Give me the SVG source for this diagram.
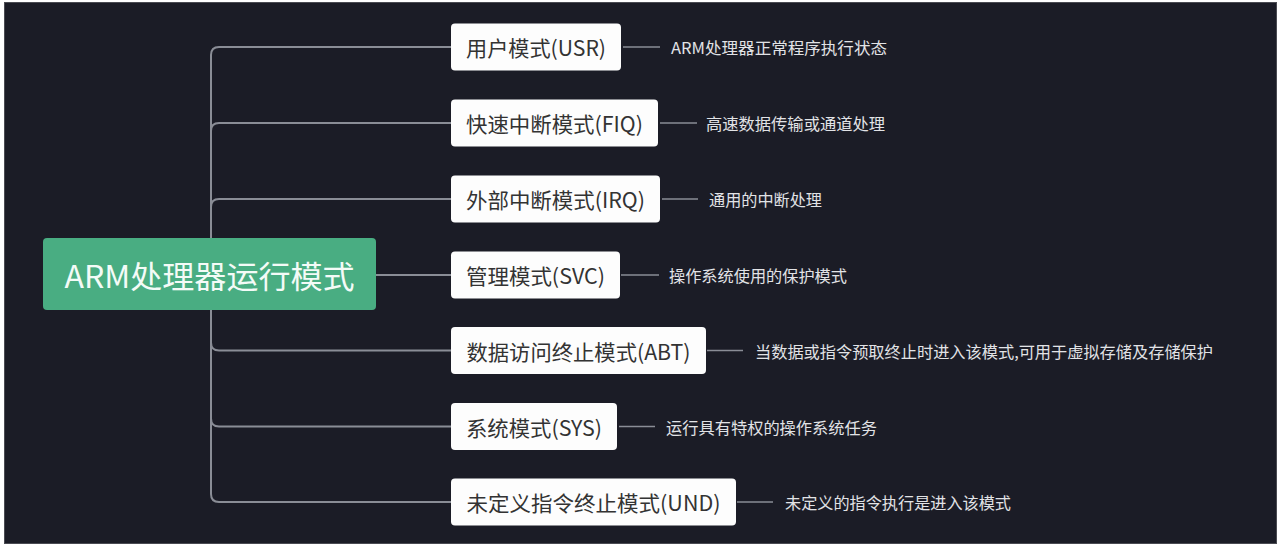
<svg xmlns="http://www.w3.org/2000/svg" width="1281" height="547" viewBox="0 0 1281 547">
<style>
.bg{fill:#1b1c26;stroke:#4a4b52;stroke-width:1}
.root{fill:#49ad82}
.rootT{fill:#f4fbf7;font-family:"Noto Sans CJK SC","Noto Sans",sans-serif;font-size:31px}
.box{fill:#fdfdfd}
.boxT{fill:#333333;font-family:"Noto Sans CJK SC","Noto Sans",sans-serif;font-size:21px}
.desc{fill:#e2e3e6;font-family:"Noto Sans CJK SC","Noto Sans",sans-serif;font-size:16px}
.br{fill:none;stroke:#8a8d96;stroke-width:2}
.dl{fill:none;stroke:#8a8d96;stroke-width:1.5}
</style>
<rect x="0" y="0" width="1281" height="547" fill="#ffffff"/>
<rect class="bg" x="4.5" y="2.5" width="1272" height="541"/>
<g id="connectors">
<path class="br" d="M211,275 V55 Q211,47 219,47 H451"/>
<path class="br" d="M211,275 V131 Q211,123 219,123 H451"/>
<path class="br" d="M211,275 V207 Q211,199 219,199 H451"/>
<path class="br" d="M376,275 H451"/>
<path class="br" d="M211,275 V342.5 Q211,350.5 219,350.5 H451"/>
<path class="br" d="M211,275 V418.5 Q211,426.5 219,426.5 H451"/>
<path class="br" d="M211,275 V494 Q211,502 219,502 H451"/>
<path class="dl" d="M623,47 H660"/>
<path class="dl" d="M660,123 H697"/>
<path class="dl" d="M662,199 H698"/>
<path class="dl" d="M621,275 H659"/>
<path class="dl" d="M707,350.5 H743"/>
<path class="dl" d="M619,426.5 H655"/>
<path class="dl" d="M737,502 H773"/>
</g>
<g id="root">
<rect class="root" x="43" y="238" width="333" height="72" rx="4"/>
<text class="rootT" x="209.5" y="274" text-anchor="middle" dominant-baseline="central" textLength="290" lengthAdjust="spacingAndGlyphs">ARM处理器运行模式</text>
</g>
<g id="usr">
<rect class="box" x="451" y="23.5" width="170" height="47" rx="4"/>
<text class="boxT" x="536" y="47" text-anchor="middle" dominant-baseline="central" textLength="140" lengthAdjust="spacingAndGlyphs">用户模式(USR)</text>
<text class="desc" x="671" y="47" dominant-baseline="central" textLength="216" lengthAdjust="spacingAndGlyphs">ARM处理器正常程序执行状态</text>
</g>
<g id="fiq">
<rect class="box" x="451" y="99.5" width="207" height="47" rx="4"/>
<text class="boxT" x="554.5" y="123" text-anchor="middle" dominant-baseline="central" textLength="177" lengthAdjust="spacingAndGlyphs">快速中断模式(FIQ)</text>
<text class="desc" x="706" y="123" dominant-baseline="central" textLength="179" lengthAdjust="spacingAndGlyphs">高速数据传输或通道处理</text>
</g>
<g id="irq">
<rect class="box" x="451" y="175.5" width="209" height="47" rx="4"/>
<text class="boxT" x="555.5" y="199" text-anchor="middle" dominant-baseline="central" textLength="179" lengthAdjust="spacingAndGlyphs">外部中断模式(IRQ)</text>
<text class="desc" x="709" y="199" dominant-baseline="central" textLength="113" lengthAdjust="spacingAndGlyphs">通用的中断处理</text>
</g>
<g id="svc">
<rect class="box" x="451" y="251.5" width="169" height="47" rx="4"/>
<text class="boxT" x="535.5" y="275" text-anchor="middle" dominant-baseline="central" textLength="139" lengthAdjust="spacingAndGlyphs">管理模式(SVC)</text>
<text class="desc" x="669" y="275" dominant-baseline="central" textLength="178" lengthAdjust="spacingAndGlyphs">操作系统使用的保护模式</text>
</g>
<g id="abt">
<rect class="box" x="451" y="327" width="255" height="47" rx="4"/>
<text class="boxT" x="578.5" y="350.5" text-anchor="middle" dominant-baseline="central" textLength="224" lengthAdjust="spacingAndGlyphs">数据访问终止模式(ABT)</text>
<text class="desc" x="755" y="350.5" dominant-baseline="central" textLength="458" lengthAdjust="spacingAndGlyphs">当数据或指令预取终止时进入该模式,可用于虚拟存储及存储保护</text>
</g>
<g id="sys">
<rect class="box" x="451" y="403" width="166" height="47" rx="4"/>
<text class="boxT" x="534" y="426.5" text-anchor="middle" dominant-baseline="central" textLength="136" lengthAdjust="spacingAndGlyphs">系统模式(SYS)</text>
<text class="desc" x="666" y="426.5" dominant-baseline="central" textLength="211" lengthAdjust="spacingAndGlyphs">运行具有特权的操作系统任务</text>
</g>
<g id="und">
<rect class="box" x="451" y="478.5" width="285" height="47" rx="4"/>
<text class="boxT" x="593.5" y="502" text-anchor="middle" dominant-baseline="central" textLength="254" lengthAdjust="spacingAndGlyphs">未定义指令终止模式(UND)</text>
<text class="desc" x="785" y="502" dominant-baseline="central" textLength="226" lengthAdjust="spacingAndGlyphs">未定义的指令执行是进入该模式</text>
</g>
</svg>
